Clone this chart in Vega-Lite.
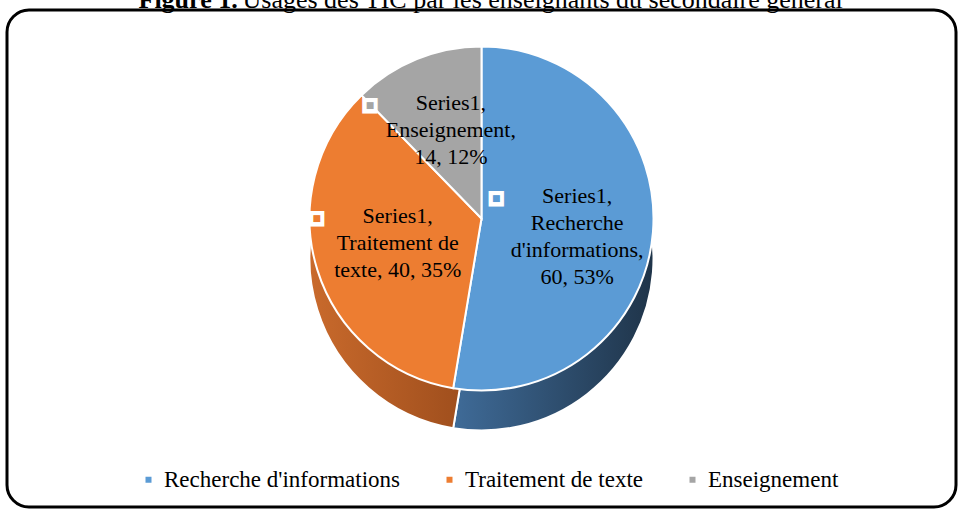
{
  "$schema": "https://vega.github.io/schema/vega-lite/v6.json",
  "width": 949,
  "height": 497,
  "autosize": {"type": "none"},
  "padding": {"left": 7, "top": 10, "right": 3, "bottom": 2},
  "background": "white",
  "config": {
    "view": {"stroke": null},
    "font": "Liberation Serif"
  },
  "title": {
    "text": "Figure 1.",
    "subtitle": "\u200b\u00a0\u00a0\u00a0\u00a0\u00a0\u00a0\u00a0\u00a0\u00a0\u00a0\u00a0\u00a0\u00a0\u00a0\u00a0\u00a0Usages des TIC par les enseignants du secondaire général",
    "anchor": "start",
    "dx": 133,
    "offset": -4,
    "font": "Liberation Serif",
    "fontSize": 26,
    "fontWeight": "bold",
    "color": "black",
    "subtitleFont": "Liberation Serif",
    "subtitleFontSize": 26,
    "subtitleFontWeight": "normal",
    "subtitleColor": "black",
    "subtitlePadding": -26
  },
  "data": {
    "values": [
      {"cat": "Recherche d'informations", "value": 60, "k": 1, "label": "Series1,\nRecherche\nd'informations,\n60, 53%"},
      {"cat": "Traitement de texte", "value": 40, "k": 2, "label": "Series1,\nTraitement de\ntexte, 40, 35%"},
      {"cat": "Enseignement", "value": 14, "k": 3, "label": "Series1,\nEnseignement,\n14, 12%"}
    ]
  },
  "layer": [
    {
      "data": {"values": [{"frame": 1}]},
      "mark": {"type": "rect", "filled": false, "stroke": "black", "strokeWidth": 3, "cornerRadius": 22},
      "encoding": {}
    },
    {
      "mark": {"type": "arc", "outerRadius": 172, "yOffset": -14, "stroke": "white", "strokeWidth": 2},
      "encoding": {
        "theta": {"field": "value", "type": "quantitative", "stack": true},
        "order": {"field": "k", "type": "quantitative"},
        "color": {
          "condition": [
            {"test": "datum.k === 1", "value": {"gradient": "linear", "x1": 0, "x2": 1, "y1": 0, "y2": 0, "stops": [{"offset": 0, "color": "#3f6b98"}, {"offset": 1, "color": "#1f3449"}]}},
            {"test": "datum.k === 2", "value": {"gradient": "linear", "x1": 0, "x2": 1, "y1": 0, "y2": 0, "stops": [{"offset": 0, "color": "#c96a2c"}, {"offset": 1, "color": "#9a4b1b"}]}}
          ],
          "value": "#7f7f7f"
        }
      }
    },
    {
      "mark": {"type": "arc", "outerRadius": 172, "yOffset": 0, "stroke": "white", "strokeWidth": 2},
      "encoding": {
        "theta": {"field": "value", "type": "quantitative", "stack": true},
        "order": {"field": "k", "type": "quantitative"},
        "color": {
          "condition": [
            {"test": "datum.k === 1", "value": {"gradient": "linear", "x1": 0, "x2": 1, "y1": 0, "y2": 0, "stops": [{"offset": 0, "color": "#3f6b98"}, {"offset": 1, "color": "#1f3449"}]}},
            {"test": "datum.k === 2", "value": {"gradient": "linear", "x1": 0, "x2": 1, "y1": 0, "y2": 0, "stops": [{"offset": 0, "color": "#c96a2c"}, {"offset": 1, "color": "#9a4b1b"}]}}
          ],
          "value": "#7f7f7f"
        }
      }
    },
    {
      "mark": {"type": "arc", "outerRadius": 172, "yOffset": -40, "stroke": "white", "strokeWidth": 2},
      "encoding": {
        "theta": {"field": "value", "type": "quantitative", "stack": true},
        "order": {"field": "k", "type": "quantitative"},
        "color": {
          "field": "cat",
          "type": "nominal",
          "sort": null,
          "scale": {
            "domain": ["Recherche d'informations", "Traitement de texte", "Enseignement"],
            "range": ["#5b9bd5", "#ed7d31", "#a5a5a5"]
          },
          "legend": {
            "title": null,
            "orient": "none",
            "direction": "horizontal",
            "legendX": 130,
            "legendY": 458,
            "padding": 0,
            "symbolType": "square",
            "symbolSize": 36,
            "symbolStrokeWidth": 0,
            "labelFont": "Liberation Serif",
            "labelFontSize": 23,
            "labelColor": "black",
            "labelOffset": 4,
            "labelLimit": 400,
            "columnPadding": 38
          }
        }
      }
    },
    {
      "mark": {"type": "text", "radius": 92, "dx": -77, "dy": -68, "text": "■", "font": "DejaVu Sans", "fontSize": 20, "color": "white", "baseline": "middle", "align": "center"},
      "encoding": {
        "theta": {"field": "value", "type": "quantitative", "stack": true},
        "order": {"field": "k", "type": "quantitative"}
      }
    },
    {
      "mark": {"type": "text", "radius": 92, "dx": -77, "dy": -68, "text": "■", "font": "DejaVu Sans", "fontSize": 9, "baseline": "middle", "align": "center"},
      "encoding": {
        "theta": {"field": "value", "type": "quantitative", "stack": true},
        "order": {"field": "k", "type": "quantitative"},
        "color": {"field": "cat", "type": "nominal", "sort": null}
      }
    },
    {
      "mark": {"type": "text", "radius": 92, "dx": 4, "dy": -80, "font": "Liberation Serif", "fontSize": 22, "lineHeight": 27, "lineBreak": "\n", "baseline": "top", "align": "center", "color": "black"},
      "encoding": {
        "theta": {"field": "value", "type": "quantitative", "stack": true},
        "order": {"field": "k", "type": "quantitative"},
        "text": {"field": "label", "type": "nominal"}
      }
    }
  ]
}
